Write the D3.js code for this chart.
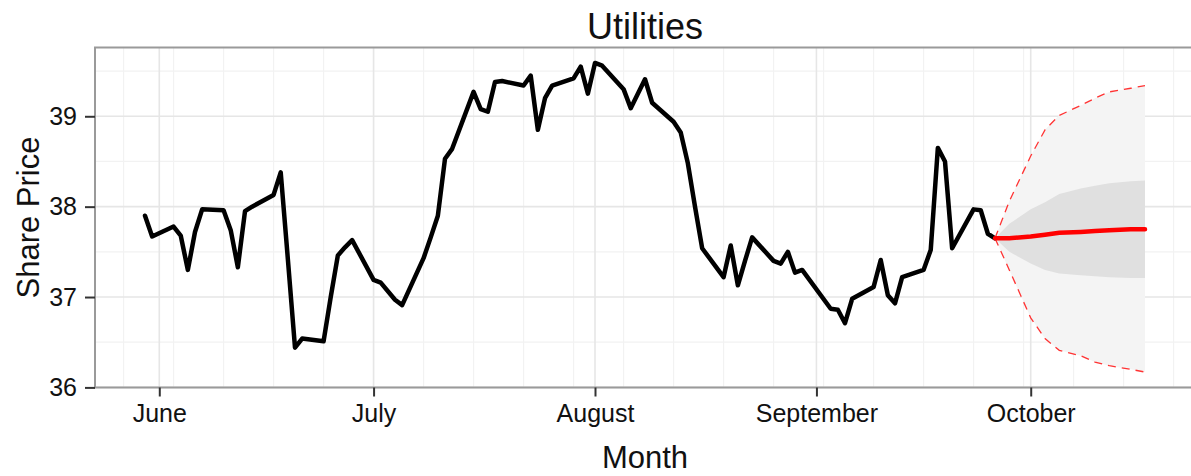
<!DOCTYPE html>
<html>
<head>
<meta charset="utf-8">
<script src="https://cdn.jsdelivr.net/npm/d3@7"></script>
<style>
body { margin: 0; background: #fff; }
text { font-family: "Liberation Sans", Arial, sans-serif; fill: #111; }
</style>
</head>
<body>
<div class="chart"></div>
<script>
// Data
var histDates = ["2012-05-30","2012-05-31",
  "2012-06-03","2012-06-04","2012-06-05","2012-06-06","2012-06-07",
  "2012-06-10","2012-06-11","2012-06-12","2012-06-13","2012-06-14",
  "2012-06-17","2012-06-18","2012-06-19","2012-06-20","2012-06-21",
  "2012-06-24","2012-06-25","2012-06-26","2012-06-27","2012-06-28",
  "2012-07-01","2012-07-02","2012-07-04","2012-07-05",
  "2012-07-08","2012-07-09","2012-07-10","2012-07-11","2012-07-12",
  "2012-07-15","2012-07-16","2012-07-17","2012-07-18","2012-07-19",
  "2012-07-22","2012-07-23","2012-07-24","2012-07-25","2012-07-26",
  "2012-07-29","2012-07-30","2012-07-31","2012-08-01","2012-08-02",
  "2012-08-05","2012-08-06","2012-08-07","2012-08-08","2012-08-09",
  "2012-08-12","2012-08-13","2012-08-14","2012-08-15","2012-08-16",
  "2012-08-19","2012-08-20","2012-08-21","2012-08-22","2012-08-23",
  "2012-08-26","2012-08-27","2012-08-28","2012-08-29","2012-08-30",
  "2012-09-03","2012-09-04","2012-09-05","2012-09-06",
  "2012-09-09","2012-09-10","2012-09-11","2012-09-12","2012-09-13",
  "2012-09-16","2012-09-17","2012-09-18","2012-09-19","2012-09-20",
  "2012-09-23","2012-09-24","2012-09-25","2012-09-26"];
var histPrice = [37.90, 37.67,
  37.78, 37.68, 37.30, 37.72, 37.97,
  37.96, 37.74, 37.33, 37.95, 38.00,
  38.13, 38.38, 37.42, 36.44, 36.54,
  36.51, 37.00, 37.46, 37.55, 37.63,
  37.19, 37.16, 36.97, 36.91,
  37.43, 37.66, 37.90, 38.53, 38.64,
  39.27, 39.08, 39.05, 39.38, 39.39,
  39.34, 39.45, 38.85, 39.20, 39.34,
  39.42, 39.55, 39.25, 39.59, 39.56,
  39.30, 39.09, 39.25, 39.41, 39.15,
  38.94, 38.82, 38.48, 38.00, 37.54,
  37.22, 37.57, 37.13, 37.40, 37.66,
  37.40, 37.37, 37.50, 37.27, 37.30,
  36.87, 36.86, 36.71, 36.98,
  37.11, 37.41, 37.02, 36.93, 37.22,
  37.30, 37.52, 38.65, 38.50, 37.54,
  37.97, 37.96, 37.70, 37.65];

var fcDates = ["2012-09-26","2012-09-28","2012-10-01","2012-10-03","2012-10-05",
  "2012-10-08","2012-10-10","2012-10-12","2012-10-15","2012-10-17"];
var fcMean = [37.65, 37.65, 37.67, 37.69, 37.71, 37.72, 37.73, 37.74, 37.75, 37.75];
var fcLo80 = [37.65, 37.50, 37.37, 37.30, 37.26, 37.24, 37.23, 37.22, 37.21, 37.21];
var fcHi80 = [37.65, 37.81, 37.97, 38.05, 38.14, 38.20, 38.23, 38.26, 38.28, 38.29];
var fcLo95 = [37.65, 37.30, 36.77, 36.54, 36.41, 36.35, 36.28, 36.24, 36.20, 36.17];
var fcHi95 = [37.65, 38.06, 38.56, 38.85, 39.01, 39.12, 39.20, 39.27, 39.31, 39.34];

var monthTicks = ["2012-06-01","2012-07-01","2012-08-01","2012-09-01","2012-10-01"];
var monthLabels = ["June","July","August","September","October"];
var yTicks = [36, 37, 38, 39];
var yMinorTicks = [36.5, 37.5, 38.5, 39.5];

// Set up
var svgWidth = 1191;
var svgHeight = 476;
var margin = { top: 47.5, right: -4, bottom: 88.5, left: 95 };
var width = svgWidth - margin.left - margin.right;
var height = svgHeight - margin.top - margin.bottom;

var parseDate = d3.timeParse("%Y-%m-%d");

var hist = histDates.map(function(d, i) {
  return { date: parseDate(d), price: histPrice[i] };
});
var fc = fcDates.map(function(d, i) {
  return { date: parseDate(d), mean: fcMean[i], lo80: fcLo80[i], hi80: fcHi80[i],
    lo95: fcLo95[i], hi95: fcHi95[i] };
});

// ggplot style 5% expansion
var xExt = [hist[0].date, fc[fc.length - 1].date];
var xPad = (xExt[1] - xExt[0]) * 0.05;
var yLo = d3.min(histPrice.concat(fcLo95));
var yHi = d3.max(histPrice.concat(fcHi95));
var yPad = (yHi - yLo) * 0.05;

var xScale = d3.scaleTime()
  .domain([new Date(+xExt[0] - xPad), new Date(+xExt[1] + xPad)])
  .range([0, width]);
var yScale = d3.scaleLinear()
  .domain([yLo - yPad, yHi + yPad])
  .range([height, 0]);

var svg = d3.select(".chart")
  .append("svg")
  .attr("width", svgWidth)
  .attr("height", svgHeight);

var chart = svg.append("g")
  .attr("transform", "translate(" + margin.left + "," + margin.top + ")");

// Grid
var weeks = d3.timeSunday.range(xScale.domain()[0], xScale.domain()[1]);
chart.append("g").selectAll("line")
  .data(weeks)
  .enter()
  .append("line")
  .attr("x1", function(d) { return xScale(d); })
  .attr("x2", function(d) { return xScale(d); })
  .attr("y1", 0)
  .attr("y2", height)
  .attr("stroke", "#f2f2f2")
  .attr("stroke-width", 1.2);

chart.append("g").selectAll("line")
  .data(yMinorTicks)
  .enter()
  .append("line")
  .attr("x1", 0)
  .attr("x2", width)
  .attr("y1", function(d) { return yScale(d); })
  .attr("y2", function(d) { return yScale(d); })
  .attr("stroke", "#f2f2f2")
  .attr("stroke-width", 1.2);

chart.append("g").selectAll("line")
  .data(monthTicks.map(parseDate))
  .enter()
  .append("line")
  .attr("x1", function(d) { return xScale(d); })
  .attr("x2", function(d) { return xScale(d); })
  .attr("y1", 0)
  .attr("y2", height)
  .attr("stroke", "#e6e6e6")
  .attr("stroke-width", 1.6);

chart.append("g").selectAll("line")
  .data(yTicks)
  .enter()
  .append("line")
  .attr("x1", 0)
  .attr("x2", width)
  .attr("y1", function(d) { return yScale(d); })
  .attr("y2", function(d) { return yScale(d); })
  .attr("stroke", "#e6e6e6")
  .attr("stroke-width", 1.6);

// Forecast bands
var area95 = d3.area()
  .x(function(d) { return xScale(d.date); })
  .y0(function(d) { return yScale(d.lo95); })
  .y1(function(d) { return yScale(d.hi95); });
var area80 = d3.area()
  .x(function(d) { return xScale(d.date); })
  .y0(function(d) { return yScale(d.lo80); })
  .y1(function(d) { return yScale(d.hi80); });

chart.append("path").datum(fc).attr("d", area95).attr("fill", "#f4f4f4");
chart.append("path").datum(fc).attr("d", area80).attr("fill", "#e0e0e0");

// Price line
var priceLine = d3.line()
  .x(function(d) { return xScale(d.date); })
  .y(function(d) { return yScale(d.price); });

chart.append("path")
  .datum(hist)
  .attr("d", priceLine)
  .attr("fill", "none")
  .attr("stroke", "#000")
  .attr("stroke-width", 4.5)
  .attr("stroke-linejoin", "round")
  .attr("stroke-linecap", "round");

// Forecast lines
function bandLine(key) {
  return d3.line()
    .x(function(d) { return xScale(d.date); })
    .y(function(d) { return yScale(d[key]); });
}

["lo95", "hi95"].forEach(function(key) {
  chart.append("path")
    .datum(fc)
    .attr("d", bandLine(key))
    .attr("fill", "none")
    .attr("stroke", "#ff3333")
    .attr("stroke-width", 1.3)
    .attr("stroke-dasharray", "8,6");
});

chart.append("path")
  .datum(fc)
  .attr("d", bandLine("mean"))
  .attr("fill", "none")
  .attr("stroke", "#ff0000")
  .attr("stroke-width", 4.5)
  .attr("stroke-linecap", "round");

// Panel border
chart.append("rect")
  .attr("width", width)
  .attr("height", height)
  .attr("fill", "none")
  .attr("stroke", "#9a9a9a")
  .attr("stroke-width", 2);

// Axes
var bottomAxis = d3.axisBottom(xScale)
  .tickValues(monthTicks.map(parseDate))
  .tickFormat(function(d, i) { return monthLabels[i]; })
  .tickSize(9)
  .tickPadding(8);
var leftAxis = d3.axisLeft(yScale)
  .tickValues(yTicks)
  .tickFormat(d3.format("d"))
  .tickSize(10)
  .tickPadding(8);

var xAxisG = chart.append("g")
  .attr("transform", "translate(0," + height + ")")
  .call(bottomAxis);
var yAxisG = chart.append("g").call(leftAxis);

[xAxisG, yAxisG].forEach(function(g) {
  g.select(".domain").remove();
  g.selectAll(".tick line").attr("stroke", "#333").attr("stroke-width", 2);
  g.selectAll(".tick text")
    .attr("fill", "#1a1a1a")
    .style("font-size", "25px")
    .style("font-family", "'Liberation Sans', Arial, sans-serif");
});

// Labels
chart.append("text")
  .attr("x", width / 2)
  .attr("y", -9)
  .attr("text-anchor", "middle")
  .style("font-size", "36px")
  .text("Utilities");

chart.append("text")
  .attr("x", width / 2)
  .attr("y", height + 80)
  .attr("text-anchor", "middle")
  .style("font-size", "31px")
  .text("Month");

chart.append("text")
  .attr("transform", "rotate(-90)")
  .attr("x", -height / 2)
  .attr("y", -56)
  .attr("text-anchor", "middle")
  .style("font-size", "31px")
  .text("Share Price");
</script>
</body>
</html>
